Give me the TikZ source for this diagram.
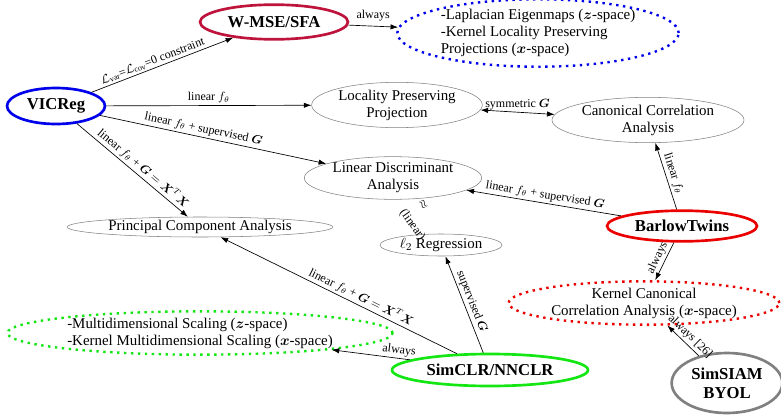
\documentclass[tikz,border=0pt]{standalone}
\usepackage{amsmath,amssymb}
\usepackage{fontspec}
\setmainfont{Liberation Serif}
\usetikzlibrary{arrows.meta,positioning,shapes.geometric}
\definecolor{vicblue}{RGB}{0,0,235}
\definecolor{wmsered}{RGB}{190,20,60}
\definecolor{barlowred}{RGB}{235,0,0}
\definecolor{simgreen}{RGB}{20,230,20}
\definecolor{siamgray}{RGB}{128,128,128}
\tikzset{
  method/.style={ellipse, draw, line width=2pt, inner sep=0pt, align=center,
    font=\fontsize{12.5}{14}\selectfont\bfseries},
  classic/.style={ellipse, draw=gray, thin, inner sep=0pt, align=center,
    font=\fontsize{11.2}{12.8}\selectfont},
  kernel/.style={ellipse, draw, line width=1.8pt, dash pattern=on 1.8pt off 3.4pt,
    inner sep=0pt, font=\fontsize{11.2}{12.8}\selectfont},
  lbl/.style={font=\fontsize{9}{10.5}\selectfont, inner sep=1.5pt},
  link/.style={-{Latex[length=2mm,width=1.4mm]}, line width=0.5pt},
  twoway/.style={{Latex[length=2mm,width=1.4mm]}-{Latex[length=2mm,width=1.4mm]}, line width=0.5pt},
}

\begin{document}
\begin{tikzpicture}[x=0.75pt, y=-0.75pt]
  \useasboundingbox (0,0) rectangle (781,414);
  % methods
  \node[method, draw=vicblue, minimum width=73.5pt, minimum height=27pt] (vic) at (56,106) {VICReg};
  \node[method, draw=wmsered, minimum width=111pt, minimum height=26pt] (wmse) at (274,22) {W-MSE/SFA};
  \node[method, draw=barlowred, minimum width=112.5pt, minimum height=23pt] (bt) at (682,226) {BarlowTwins};
  \node[method, draw=simgreen, minimum width=147pt, minimum height=24pt] (simclr) at (490,370) {SimCLR/NNCLR};
  \node[method, draw=siamgray, minimum width=83pt, minimum height=45pt] (siam) at (727,383) {SimSIAM\\BYOL};
  % classical methods
  \node[classic, minimum width=128pt, minimum height=34pt] (lpp) at (397,105) {Locality Preserving\\Projection};
  \node[classic, minimum width=144pt, minimum height=34pt] (cca) at (648,120) {Canonical Correlation\\Analysis};
  \node[classic, minimum width=133pt, minimum height=32pt] (lda) at (393,178) {Linear Discriminant\\Analysis};
  \node[classic, minimum width=199pt, minimum height=15pt] (pca) at (200,227) {Principal Component Analysis};
  \node[classic, minimum width=91.5pt, minimum height=16.5pt] (l2) at (441,245) {$\ell_2$ Regression};
  % kernel / spectral methods
  \node[kernel, draw=vicblue, align=left, minimum width=211pt, minimum height=47pt] (le) at (538,33)
    {-Laplacian Eigenmaps ($\boldsymbol{z}$-space)\\-Kernel Locality Preserving\\Projections ($\boldsymbol{x}$-space)};
  \node[kernel, draw=barlowred, align=center, minimum width=203pt, minimum height=28pt] (kcca) at (644,303)
    {Kernel Canonical\\Correlation Analysis ($\boldsymbol{x}$-space)};
  \node[kernel, draw=simgreen, align=left, minimum width=289pt, minimum height=30pt] (mds) at (200,333)
    {-Multidimensional Scaling ($\boldsymbol{z}$-space)\\-Kernel Multidimensional Scaling ($\boldsymbol{x}$-space)};
  % links
  \draw[link] (vic) -- node[lbl, sloped, above, pos=0.45] {$\mathcal{L}_{\mathrm{var}}$=$\mathcal{L}_{\mathrm{cov}}$=0 constraint} (wmse);
  \draw[link] (wmse) -- node[lbl, above=2pt] {always} (le);
  \draw[link] (vic) -- node[lbl, above] {linear $f_\theta$} (lpp);
  \draw[link] (vic) -- node[lbl, sloped, above, pos=0.45] {linear $f_\theta$ + supervised $\boldsymbol{G}$} (lda);
  \draw[link] (vic) -- node[lbl, sloped, above, pos=0.55] {linear $f_\theta$ + $\boldsymbol{G}=\boldsymbol{X}^T\boldsymbol{X}$} (pca);
  \draw[twoway] (lpp) -- node[lbl, above] {symmetric $\boldsymbol{G}$} (cca);
  \draw[link] (bt) -- node[lbl, sloped, above] {linear $f_\theta$} (cca);
  \draw[link] (bt) -- node[lbl, sloped, above] {linear $f_\theta$ + supervised $\boldsymbol{G}$} (lda);
  \draw[link] (bt) -- node[lbl, sloped, above] {always} (kcca);
  \draw[link] (siam) -- node[lbl, sloped, above, pos=0.45] {always [26]} (kcca);
  \path (lda) -- node[lbl, sloped, above=3pt, pos=0.3] {$\approx$} node[lbl, sloped, below=3pt, pos=0.55] {(linear)} (l2);
  \draw[link] (simclr) -- node[lbl, sloped, above, pos=0.42] {linear $f_\theta$ + $\boldsymbol{G}=\boldsymbol{X}^T\boldsymbol{X}$} (pca);
  \draw[link] (simclr) -- node[lbl, sloped, above] {supervised $\boldsymbol{G}$} (l2);
  \draw[link] (simclr) -- node[lbl, sloped, above, pos=0.15] {always} (mds);
\end{tikzpicture}
\end{document}
